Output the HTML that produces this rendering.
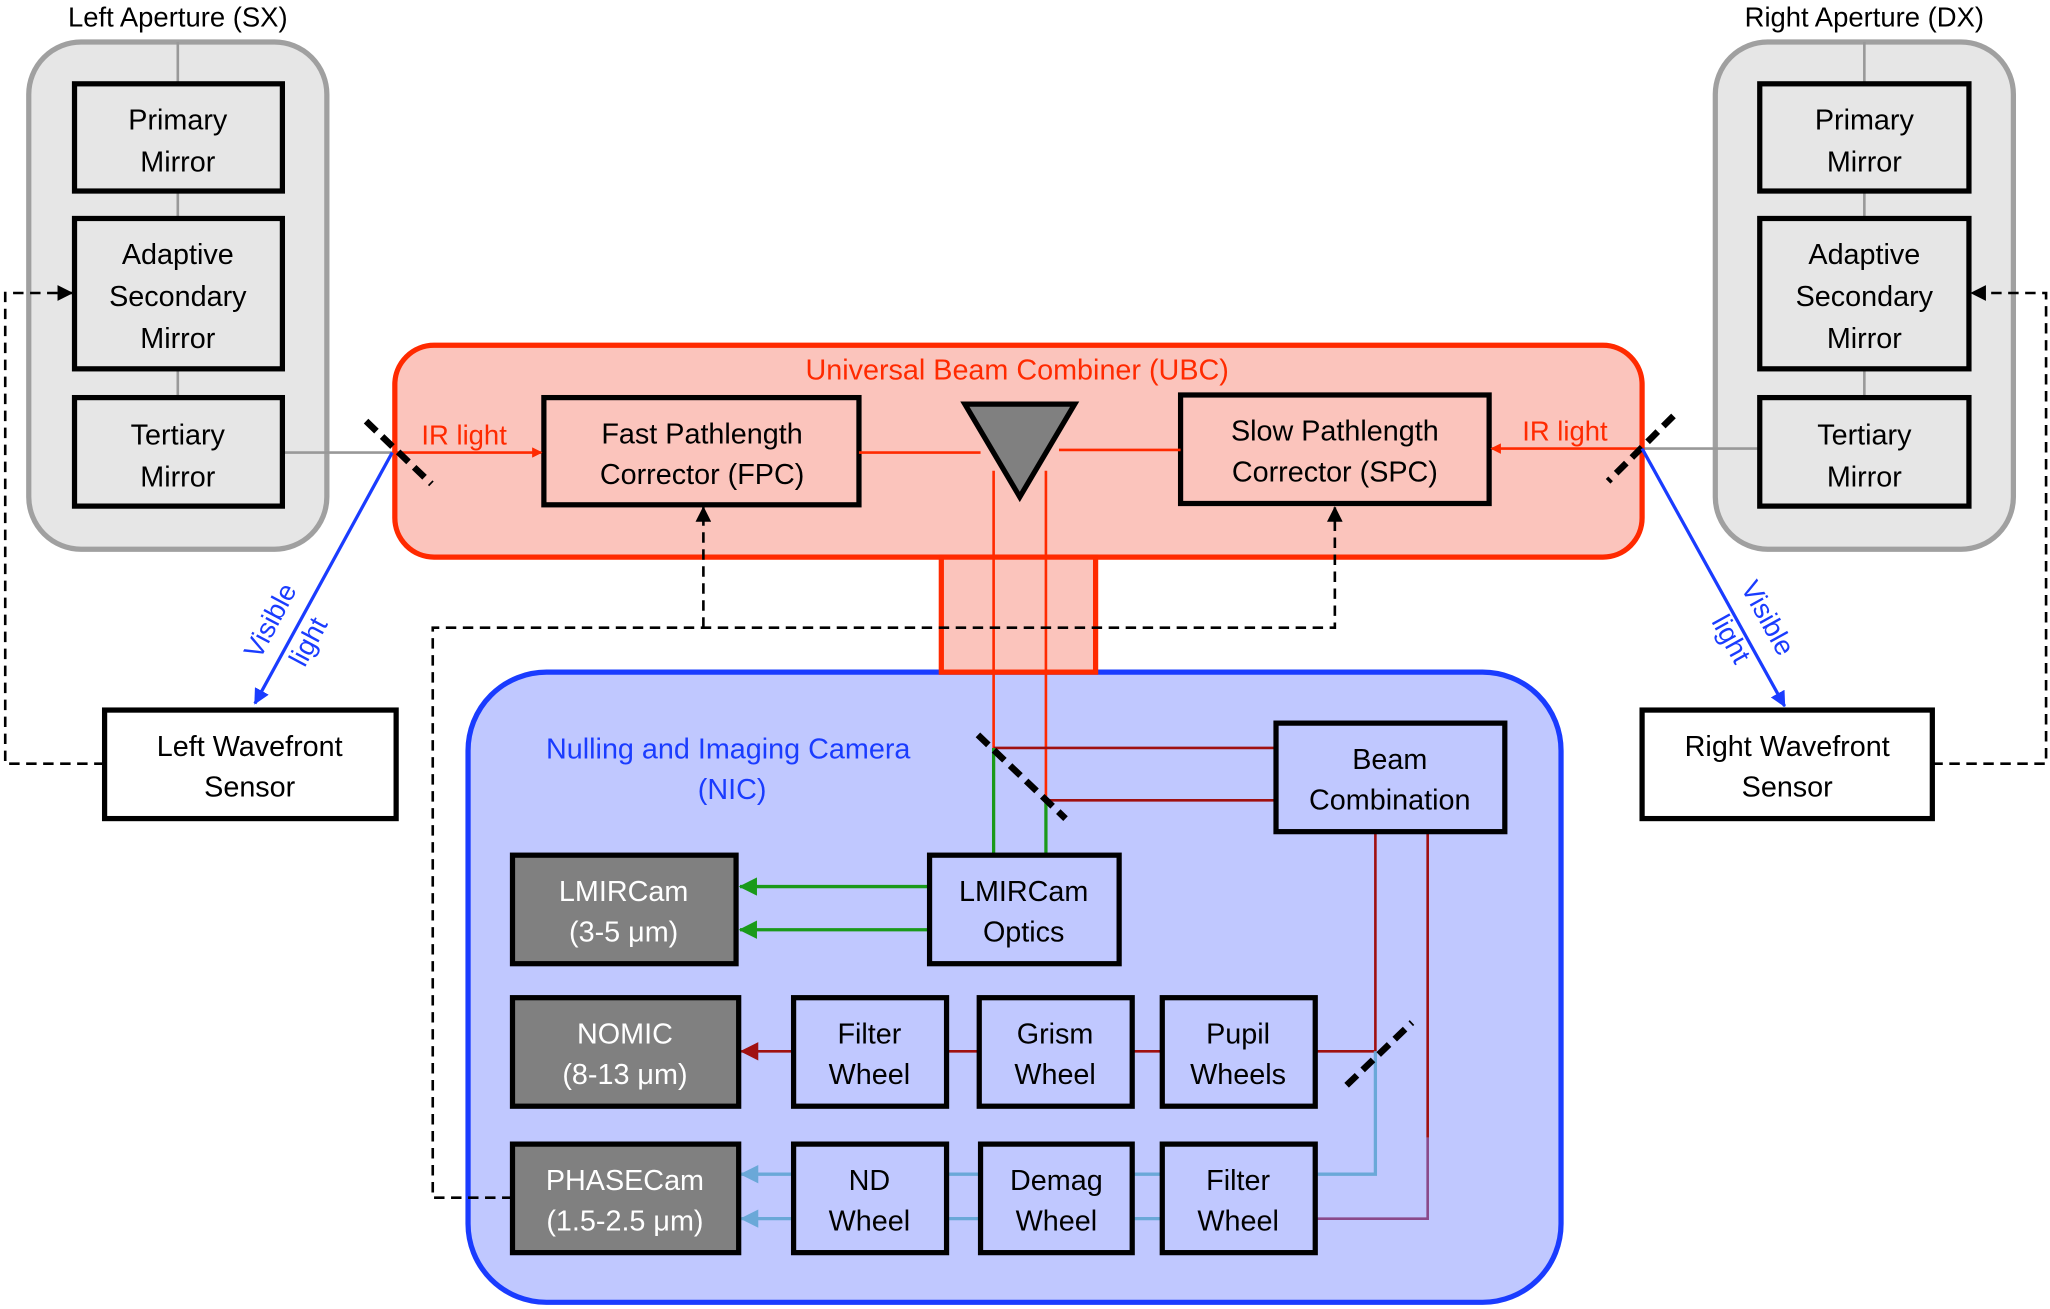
<!DOCTYPE html>
<html><head><meta charset="utf-8"><style>
html,body{margin:0;padding:0;background:#fff;}
svg{display:block;}
text{font-family:"Liberation Sans",sans-serif;}
</style></head><body>
<svg width="2050" height="1309" viewBox="0 0 1568 1001" xmlns="http://www.w3.org/2000/svg">
<defs>
<marker id="aR" markerWidth="8" markerHeight="8" refX="7" refY="4" orient="auto" markerUnits="userSpaceOnUse"><path d="M0,0 L8,4 L0,8z" fill="#ff2a00"/></marker>
<marker id="aB" markerWidth="12" markerHeight="12" refX="11" refY="6" orient="auto" markerUnits="userSpaceOnUse"><path d="M0,0 L12,6 L0,12z" fill="#1a3cff"/></marker>
<marker id="aK" markerWidth="12" markerHeight="12" refX="11" refY="6" orient="auto" markerUnits="userSpaceOnUse"><path d="M0,0 L12,6 L0,12z" fill="#000"/></marker>
<marker id="aG" markerWidth="14" markerHeight="14" refX="13" refY="7" orient="auto" markerUnits="userSpaceOnUse"><path d="M0,0 L14,7 L0,14z" fill="#1a9a1a"/></marker>
<marker id="aD" markerWidth="14" markerHeight="14" refX="13" refY="7" orient="auto" markerUnits="userSpaceOnUse"><path d="M0,0 L14,7 L0,14z" fill="#a01010"/></marker>
<marker id="aL" markerWidth="14" markerHeight="14" refX="13" refY="7" orient="auto" markerUnits="userSpaceOnUse"><path d="M0,0 L14,7 L0,14z" fill="#6aa8d8"/></marker>
</defs>

<text x="136" y="20" font-size="21" text-anchor="middle">Left Aperture (SX)</text>
<text x="1426" y="20" font-size="21" text-anchor="middle">Right Aperture (DX)</text>
<rect x="22" y="32" width="228" height="388" rx="40" fill="#e6e6e6" stroke="#a0a0a0" stroke-width="4"/>
<rect x="1312" y="32" width="228" height="388" rx="40" fill="#e6e6e6" stroke="#a0a0a0" stroke-width="4"/>
<g stroke="#999" stroke-width="2">
<line x1="136" y1="32" x2="136" y2="64"/><line x1="136" y1="146" x2="136" y2="167"/><line x1="136" y1="282" x2="136" y2="304"/>
<line x1="1426" y1="32" x2="1426" y2="64"/><line x1="1426" y1="146" x2="1426" y2="167"/><line x1="1426" y1="282" x2="1426" y2="304"/>
<line x1="216" y1="346" x2="300" y2="346"/><line x1="1346" y1="343" x2="1256" y2="343"/>
</g>
<g fill="#e6e6e6" stroke="#000" stroke-width="4">
<rect x="57" y="64" width="159" height="82"/><rect x="57" y="167" width="159" height="115"/><rect x="57" y="304" width="159" height="83"/>
<rect x="1346" y="64" width="160" height="82"/><rect x="1346" y="167" width="160" height="115"/><rect x="1346" y="304" width="160" height="83"/>
</g>
<g font-size="22" text-anchor="middle">
<text x="136" y="99">Primary</text><text x="136" y="131">Mirror</text>
<text x="136" y="202">Adaptive</text><text x="136" y="234">Secondary</text><text x="136" y="266">Mirror</text>
<text x="136" y="340">Tertiary</text><text x="136" y="372">Mirror</text>
<text x="1426" y="99">Primary</text><text x="1426" y="131">Mirror</text>
<text x="1426" y="202">Adaptive</text><text x="1426" y="234">Secondary</text><text x="1426" y="266">Mirror</text>
<text x="1426" y="340">Tertiary</text><text x="1426" y="372">Mirror</text>
</g>

<rect x="302" y="264" width="954" height="162" rx="30" fill="#fbc4bc" stroke="#ff2a00" stroke-width="4"/>

<!-- NIC -->
<rect x="358" y="514" width="836" height="482" rx="60" fill="#c0c8ff" stroke="#1a3cff" stroke-width="4"/>
<rect x="720" y="426" width="118" height="88" fill="#fbc4bc" stroke="#ff2a00" stroke-width="4"/>

<text x="778" y="290" font-size="22" fill="#ff2a00" text-anchor="middle">Universal Beam Combiner (UBC)</text>
<g fill="#fbc4bc" stroke="#000" stroke-width="4">
<rect x="416" y="304" width="241" height="82"/><rect x="903" y="302" width="236" height="83"/>
</g>
<g font-size="22" text-anchor="middle">
<text x="537" y="339">Fast Pathlength</text><text x="537" y="370">Corrector (FPC)</text>
<text x="1021" y="337">Slow Pathlength</text><text x="1021" y="368">Corrector (SPC)</text>
</g>
<g stroke="#ff2a00" stroke-width="2" fill="none">
<line x1="657" y1="346" x2="750" y2="346"/><line x1="810" y1="344" x2="903" y2="344"/>
<line x1="300" y1="346" x2="414" y2="346" marker-end="url(#aR)"/>
<line x1="1256" y1="343" x2="1141" y2="343" marker-end="url(#aR)"/>
<line x1="760" y1="360" x2="760" y2="572"/><line x1="800" y1="360" x2="800" y2="612"/>
</g>
<polygon points="738,309 822,309 780,380" fill="#808080" stroke="#000" stroke-width="4"/>
<text x="355" y="340" font-size="21" fill="#ff2a00" text-anchor="middle">IR light</text>
<text x="1197" y="337" font-size="21" fill="#ff2a00" text-anchor="middle">IR light</text>
<g stroke="#000" stroke-width="5" stroke-dasharray="11,6">
<line x1="280" y1="322" x2="330" y2="370"/><line x1="1280" y1="318" x2="1230" y2="368"/>
</g>

<line x1="300" y1="346" x2="195" y2="538" stroke="#1a3cff" stroke-width="2.5" marker-end="url(#aB)"/>
<line x1="1256" y1="343" x2="1365" y2="540" stroke="#1a3cff" stroke-width="2.5" marker-end="url(#aB)"/>
<g font-size="21" fill="#1a3cff" text-anchor="middle">
<text transform="translate(213,478) rotate(-62)">Visible</text>
<text transform="translate(242,494) rotate(-62)">light</text>
<text transform="translate(1346,476) rotate(61)">Visible</text>
<text transform="translate(1318,492) rotate(61)">light</text>
</g>

<g fill="#fff" stroke="#000" stroke-width="4">
<rect x="80" y="543" width="223" height="83"/><rect x="1256" y="543" width="222" height="83"/>
</g>
<g font-size="22" text-anchor="middle">
<text x="191" y="578">Left Wavefront</text><text x="191" y="609">Sensor</text>
<text x="1367" y="578">Right Wavefront</text><text x="1367" y="609">Sensor</text>
</g>
<g stroke="#000" stroke-width="2" stroke-dasharray="8,5" fill="none">
<polyline points="80,584 4,584 4,224 55,224" marker-end="url(#aK)"/>
<polyline points="1478,584 1565,584 1565,224 1508,224" marker-end="url(#aK)"/>
</g>

<text x="557" y="580" font-size="22" fill="#1a3cff" text-anchor="middle">Nulling and Imaging Camera</text>
<text x="560" y="611" font-size="22" fill="#1a3cff" text-anchor="middle">(NIC)</text>

<g stroke="#000" stroke-width="2" stroke-dasharray="8,5" fill="none">
<polyline points="392,916 331,916 331,480 1021,480 1021,388" marker-end="url(#aK)"/>
<polyline points="538,480 538,388" marker-end="url(#aK)"/>
</g>

<g stroke="#a01010" stroke-width="2" fill="none">
<line x1="760" y1="572" x2="976" y2="572"/><line x1="800" y1="612" x2="976" y2="612"/>
<line x1="1052" y1="636" x2="1052" y2="804"/><line x1="1092" y1="636" x2="1092" y2="870"/>
<line x1="1052" y1="804" x2="567" y2="804" marker-end="url(#aD)"/>
</g>
<g stroke="#1a9a1a" stroke-width="2.5" fill="none">
<line x1="760" y1="572" x2="760" y2="654"/><line x1="800" y1="612" x2="800" y2="654"/>
<line x1="711" y1="678" x2="566" y2="678" marker-end="url(#aG)"/>
<line x1="711" y1="711" x2="566" y2="711" marker-end="url(#aG)"/>
</g>
<g stroke="#6aa8d8" stroke-width="2.5" fill="none">
<polyline points="1052,804 1052,898 567,898" marker-end="url(#aL)"/>
<line x1="889" y1="932" x2="567" y2="932" marker-end="url(#aL)"/>
</g>
<polyline points="1092,870 1092,932 1006,932" stroke="#8a4a8a" stroke-width="2" fill="none"/>
<g stroke="#000" stroke-width="5" stroke-dasharray="11,6">
<line x1="748" y1="562" x2="815" y2="626"/><line x1="1030" y1="830" x2="1080" y2="782"/>
</g>

<g fill="#c0c8ff" stroke="#000" stroke-width="4">
<rect x="976" y="553" width="175" height="83"/>
<rect x="711" y="654" width="145" height="83"/>
<rect x="607" y="763" width="117" height="83"/><rect x="749" y="763" width="117" height="83"/><rect x="889" y="763" width="117" height="83"/>
<rect x="607" y="875" width="117" height="83"/><rect x="750" y="875" width="116" height="83"/><rect x="889" y="875" width="117" height="83"/>
</g>
<g fill="#808080" stroke="#000" stroke-width="4">
<rect x="392" y="654" width="171" height="83"/><rect x="392" y="763" width="173" height="83"/><rect x="392" y="875" width="173" height="83"/>
</g>
<g font-size="22" text-anchor="middle">
<text x="1063" y="588">Beam</text><text x="1063" y="619">Combination</text>
<text x="783" y="689">LMIRCam</text><text x="783" y="720">Optics</text>
<text x="665" y="798">Filter</text><text x="665" y="829">Wheel</text>
<text x="807" y="798">Grism</text><text x="807" y="829">Wheel</text>
<text x="947" y="798">Pupil</text><text x="947" y="829">Wheels</text>
<text x="665" y="910">ND</text><text x="665" y="941">Wheel</text>
<text x="808" y="910">Demag</text><text x="808" y="941">Wheel</text>
<text x="947" y="910">Filter</text><text x="947" y="941">Wheel</text>
</g>
<g font-size="22" text-anchor="middle" fill="#fff">
<text x="477" y="689">LMIRCam</text><text x="477" y="720">(3-5 μm)</text>
<text x="478" y="798">NOMIC</text><text x="478" y="829">(8-13 μm)</text>
<text x="478" y="910">PHASECam</text><text x="478" y="941">(1.5-2.5 μm)</text>
</g>
</svg>
</body></html>
